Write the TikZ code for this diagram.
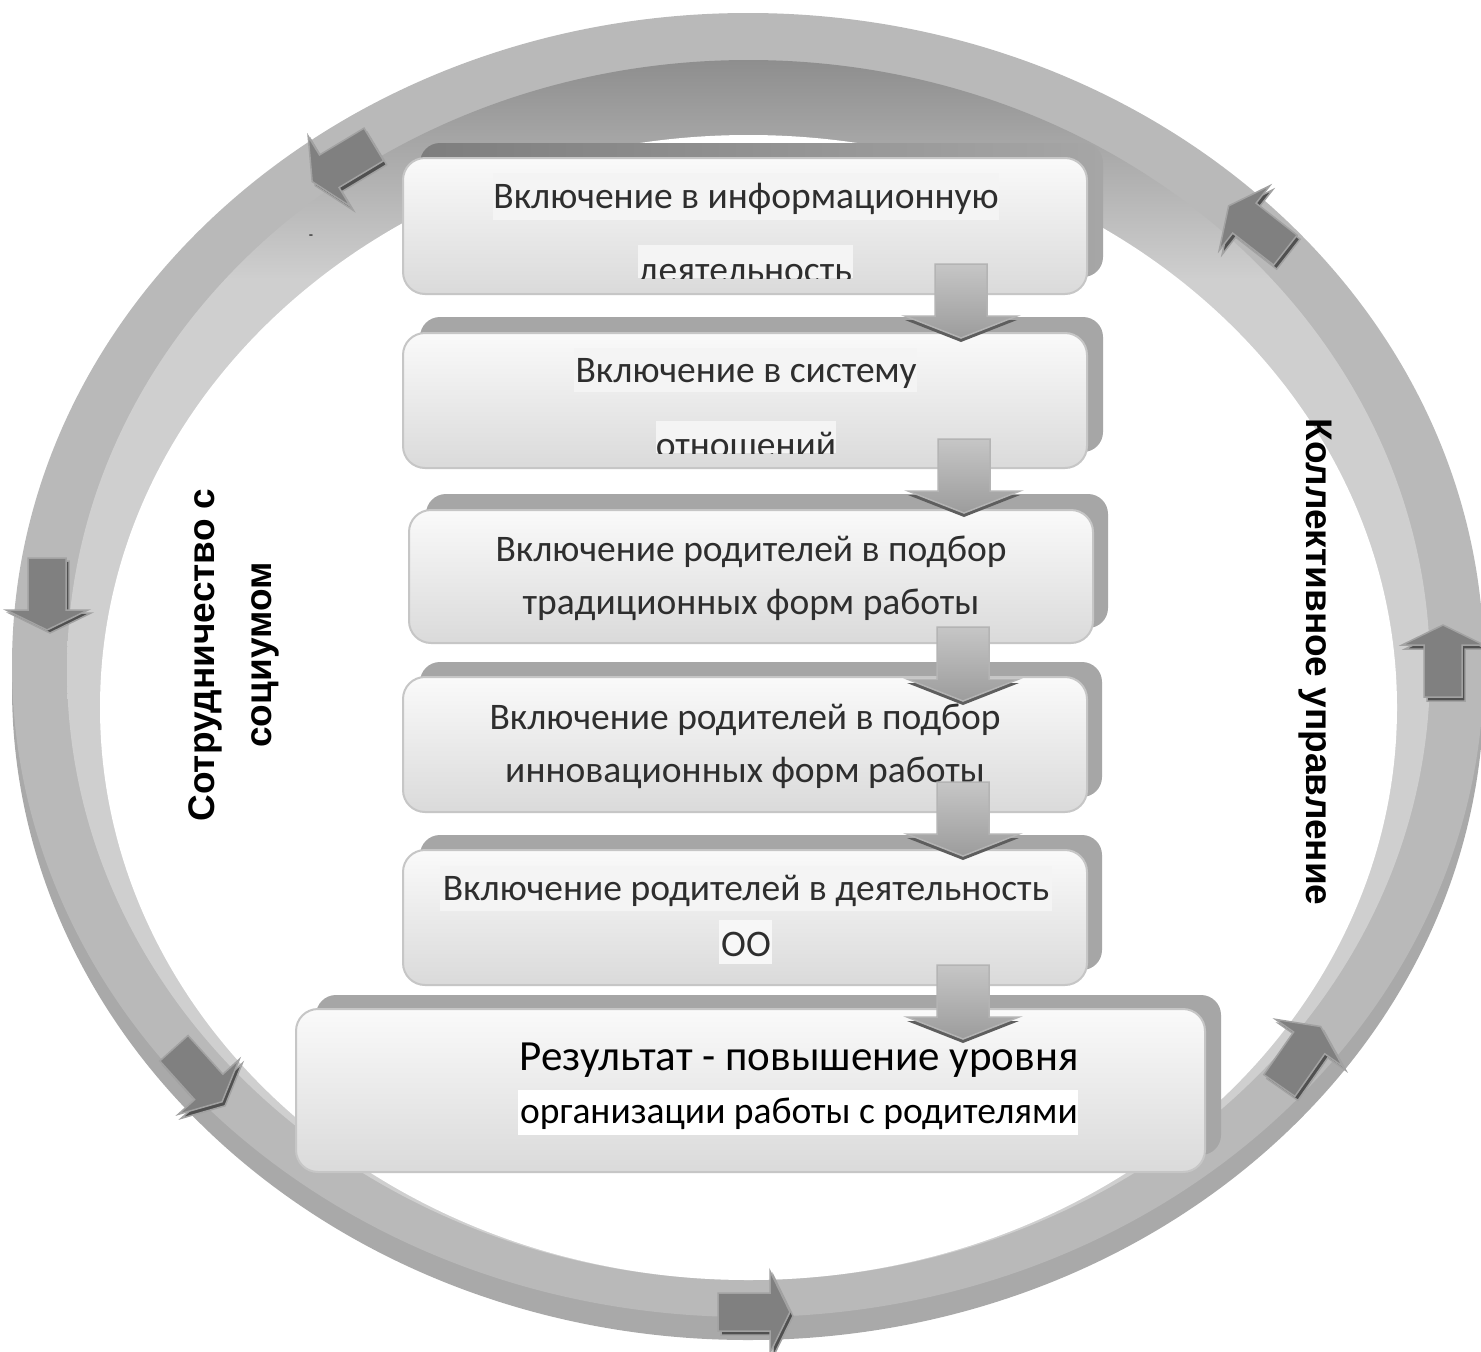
\documentclass[tikz,border=0pt]{standalone}
\usepackage{fontspec}
\setmainfont{Carlito}
\newfontfamily\labfont{Liberation Sans}
\definecolor{ringtop}{HTML}{B9B9B9}
\definecolor{ringside}{HTML}{A9A9A9}
\definecolor{wallL}{HTML}{CFCFCF}
\definecolor{wallD}{HTML}{8E8E8E}
\definecolor{shad}{HTML}{A6A6A6}
\definecolor{shadD}{HTML}{7E7E7E}
\definecolor{boxT}{HTML}{FAFAFA}
\definecolor{boxB}{HTML}{DADADA}
\definecolor{boxE}{HTML}{C6C6C6}
\definecolor{arrF}{HTML}{808080}
\definecolor{arrE}{HTML}{A2A2A2}
\definecolor{arrS}{HTML}{505050}
\definecolor{darT}{HTML}{C6C6C6}
\definecolor{darB}{HTML}{9C9C9C}
\definecolor{darE}{HTML}{B4B4B4}
\definecolor{darS}{HTML}{5E5E5E}
\definecolor{txt}{HTML}{2E2E2E}
\definecolor{hl}{HTML}{F4F4F4}
\pgfdeclareverticalshading{innerwall}{100bp}{color(0bp)=(wallL); color(25bp)=(wallL); color(66bp)=(wallL); color(75bp)=(wallD); color(100bp)=(wallD)}
\tikzset{
  backbox/.style={fill=shad, rounded corners=20},
  frontbox/.style={top color=boxT, bottom color=boxB, draw=boxE, line width=2pt, rounded corners=22},
  boxtext/.style={text=txt, font=\fontsize{37.5}{40}\selectfont, inner sep=0pt, anchor=base},
  vlab/.style={font=\labfont\bfseries\fontsize{37}{40}\selectfont, text=black, inner sep=0pt},
  pics/ringarr/.style={code={
    \filldraw[fill=#1, draw=arrE, line width=1.5pt, line join=miter]
      (-36,-19) -- (16,-19) -- (16,-41) -- (36,0) -- (16,41) -- (16,19) -- (-36,19) -- cycle;}},
  pics/downarr/.style={code={
    \fill[darS] (-26,-50) -- (26,-50) -- (26,4) -- (56,4) -- (0,26) -- (-56,4) -- (-26,4) -- cycle;
    \shade[top color=darT, bottom color=darB, draw=darE, line width=1.5pt]
      (-26,-52) -- (26,-52) -- (26,0) -- (56,0) -- (0,22) -- (-56,0) -- (-26,0) -- cycle;}}
}
\begin{document}
\begin{tikzpicture}[x=1pt,y=-1pt]
\useasboundingbox (0,0) rectangle (1481,1352);
% ring
\fill[ringside] (748,688) ellipse [x radius=736, y radius=652];
\fill[ringtop] (748,665) ellipse [x radius=736, y radius=652];
\shade[shading=innerwall] (748.5,670) ellipse [x radius=681.5, y radius=610];
\fill[white] (748.5,707.5) ellipse [x radius=648.5, y radius=572.5];
% ring arrows (shadow then arrow)
\pic[rotate=211] at (346,167) {ringarr=arrS};
\pic[rotate=211] at (343,163) {ringarr=arrF};
\pic[rotate=270] at (50,597) {ringarr=arrS};
\pic[rotate=270] at (47,594) {ringarr=arrF};
\pic[rotate=-48] at (201,1079) {ringarr=arrS};
\pic[rotate=-48] at (198,1075) {ringarr=arrF};
\pic[rotate=0] at (757,1316) {ringarr=arrS};
\pic[rotate=0] at (754,1312) {ringarr=arrF};
\pic[rotate=55] at (1303,1060) {ringarr=arrS};
\pic[rotate=55] at (1300,1056) {ringarr=arrF};
\pic[rotate=90] at (1446,665) {ringarr=arrS};
\pic[rotate=90] at (1443,661) {ringarr=arrF};
\pic[rotate=142] at (1260,232) {ringarr=arrS};
\pic[rotate=142] at (1257,228) {ringarr=arrF};
% vertical labels
\node[vlab, rotate=90] (soc1) at (205,655) {Сотрудничество с};
\node[vlab, rotate=90] (soc2) at (265,655) {социумом};
\node[vlab, rotate=-90] (kol) at (1315,662) {Коллективное управление};
\node[font=\fontsize{14}{14}\selectfont, inner sep=0pt] (dash) at (311,237) {-};
% box 1
\shade[left color=shadD, right color=shad, rounded corners=20] (420,143) rectangle (1103,277);
\path[frontbox] (403,158) rectangle (1087,294);
\fill[hl] (493,173) rectangle (999,220);
\fill[hl] (638,245) rectangle (853,278);
\node[boxtext] (b1a) at (746,208) {Включение в информационную};
\begin{scope}
\clip (403,158) rectangle (1087,278);
\node[boxtext] (b1b) at (745,282) {деятельность};
\end{scope}
% box 2
\path[backbox] (420,317) rectangle (1103,452);
\path[frontbox] (403,333) rectangle (1087,468);
\fill[hl] (574,348) rectangle (917,392);
\fill[hl] (656,421) rectangle (836,453);
\node[boxtext] (b2a) at (746,382) {Включение в систему};
\begin{scope}
\clip (403,333) rectangle (1087,453);
\node[boxtext] (b2b) at (746,457) {отношений};
\end{scope}
% box 3
\path[backbox] (426,494) rectangle (1108,628);
\path[frontbox] (409,510) rectangle (1093,643);
\node[boxtext] (b3a) at (751,561) {Включение родителей в подбор};
\node[boxtext] (b3b) at (751,614) {традиционных форм работы};
% box 4
\path[backbox] (420,662) rectangle (1102,797);
\path[frontbox] (403,677) rectangle (1087,812);
\node[boxtext] (b4a) at (745,729) {Включение родителей в подбор};
\node[boxtext] (b4b) at (745,782) {инновационных форм работы};
% box 5
\path[backbox] (420,835) rectangle (1102,970);
\path[frontbox] (403,850) rectangle (1087,985);
\fill[hl] (440,866) rectangle (1052,911);
\fill[white!97!black] (719,920) rectangle (772,964);
\node[boxtext] (b5a) at (746,900) {Включение родителей в деятельность};
\node[boxtext] (b5b) at (746,956) {ОО};
% box 6
\path[backbox] (316,995) rectangle (1221,1155);
\path[frontbox] (296,1009) rectangle (1205,1172);
\fill[white] (518,1090) rectangle (1078,1135);
\node[boxtext, font=\fontsize{43}{46}\selectfont, text=black] (b6a) at (799,1070) {Результат - повышение уровня};
\node[boxtext, text=black] (b6b) at (799,1123) {организации работы с родителями};
% down arrows
\pic at (961,316) {downarr};
\pic at (964,491) {downarr};
\pic at (963,679) {downarr};
\pic at (963,834) {downarr};
\pic at (963,1017) {downarr};
\end{tikzpicture}
\end{document}
